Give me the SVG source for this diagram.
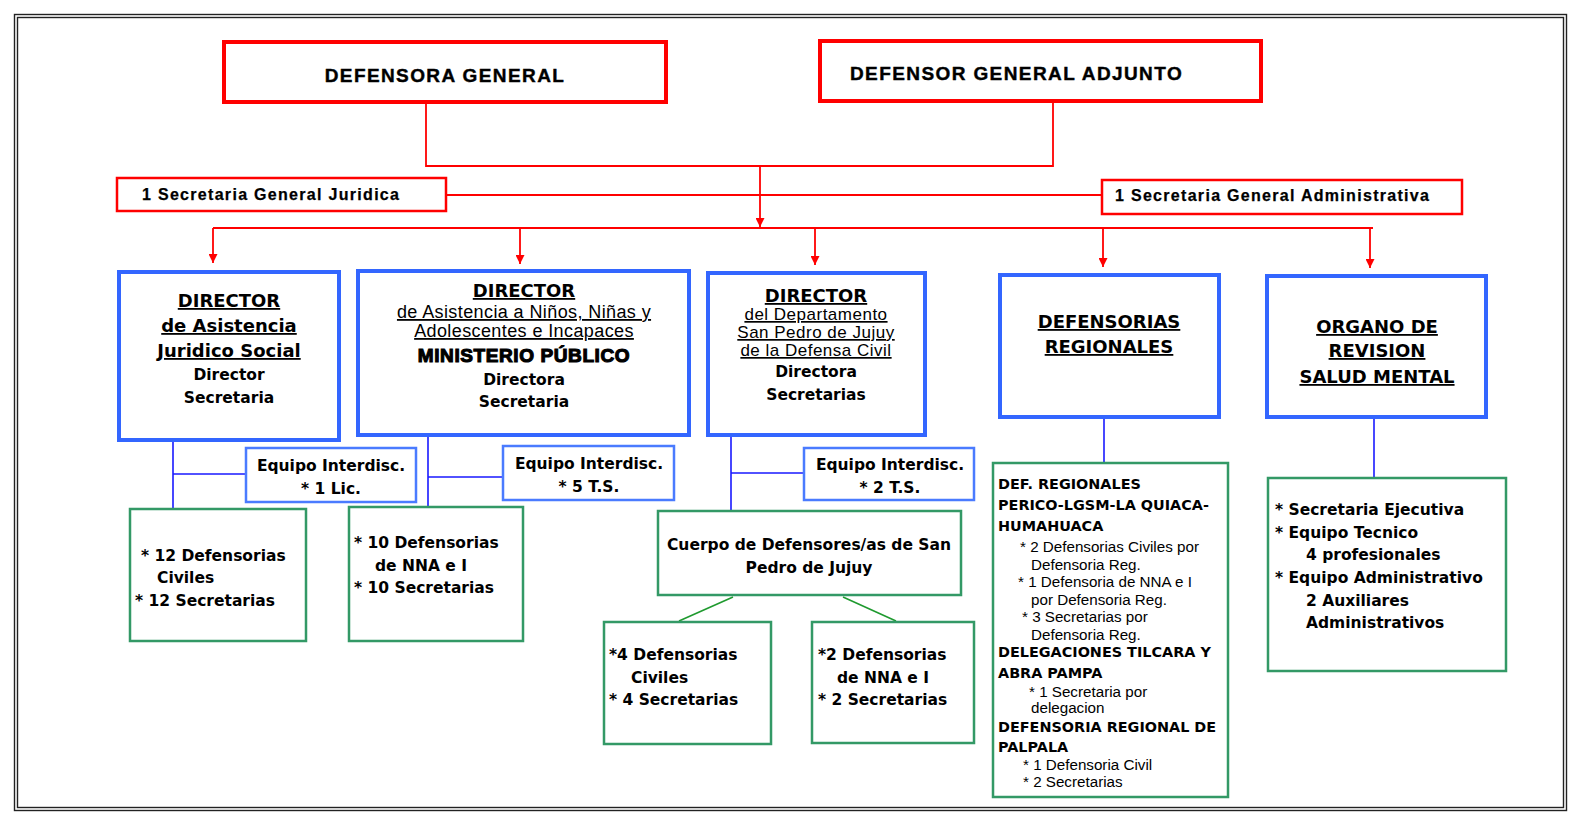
<svg xmlns="http://www.w3.org/2000/svg" width="1581" height="829" viewBox="0 0 1581 829">
<style>
.bg{fill:#fff}
.frame{fill:none;stroke:#222;stroke-width:1.4}
.red{fill:#fff;stroke:#ff0000;stroke-width:4}
.red2{fill:#fff;stroke:#ff0000;stroke-width:2.5}
.blue{fill:#fff;stroke:#3366ff;stroke-width:4}
.blue2{fill:#fff;stroke:#4a7bff;stroke-width:2.5}
.green{fill:#fff;stroke:#339966;stroke-width:2.5}
.cr{fill:none;stroke:#ff0000;stroke-width:1.8}
.cb{fill:none;stroke:#1a1aff;stroke-width:1.6}
.cg{fill:none;stroke:#1f9a2f;stroke-width:1.6}
text{fill:#000}
.a{font-family:"Liberation Sans",Arial,sans-serif;font-weight:bold}
.t1{font-size:19px;letter-spacing:1.4px;stroke:#000;stroke-width:0.4}
.ts{font-size:16px;letter-spacing:1.3px;stroke:#000;stroke-width:0.25}
.v{font-family:"DejaVu Sans",Verdana,sans-serif;font-weight:bold}
.r{font-family:"Liberation Sans",Arial,sans-serif}
.m{text-anchor:middle}
.u{text-decoration:underline}
.f18{font-size:18px}
.f155{font-size:15.5px}
.f14{font-size:15.5px}
.f15{font-size:14.4px}
.rr{font-size:18px;letter-spacing:0.4px}
.rd{font-size:17px;letter-spacing:0.5px}
.min{font-size:19px;letter-spacing:0.6px;stroke:#000;stroke-width:1.1}
.sm{font-size:15.2px}
</style>
<defs>
<marker id="arr" viewBox="0 0 10 10" refX="10" refY="5" markerWidth="10" markerHeight="9" markerUnits="userSpaceOnUse" orient="auto">
<path d="M0,0 L10,5 L0,10 z" fill="#ff0000"/>
</marker>
</defs>
<rect class="bg" x="0" y="0" width="1581" height="829"/>
<rect class="frame" x="14.5" y="14.5" width="1552" height="796"/>
<rect class="frame" x="17.5" y="17.5" width="1546" height="790"/>

<g id="connectors">
<path class="cr" d="M426,104 V166 H1053 V103"/>
<path class="cr" d="M760,166 V227" marker-end="url(#arr)"/>
<path class="cr" d="M447,195 H1101"/>
<path class="cr" d="M213,228 H1373"/>
<path class="cr" d="M213,228 V263" marker-end="url(#arr)"/>
<path class="cr" d="M520,228 V264" marker-end="url(#arr)"/>
<path class="cr" d="M815,228 V265" marker-end="url(#arr)"/>
<path class="cr" d="M1103,228 V267" marker-end="url(#arr)"/>
<path class="cr" d="M1370,228 V268" marker-end="url(#arr)"/>
<path class="cb" d="M173,442 V508 M173,474 H246"/>
<path class="cb" d="M428,437 V506 M428,477 H503"/>
<path class="cb" d="M731,437 V510 M731,473 H804"/>
<path class="cb" d="M1104,419 V463"/>
<path class="cb" d="M1374,419 V478"/>
<path class="cg" d="M733,597 L679,621 M843,597 L896,621"/>
</g>

<g id="defensora-general">
<rect class="red" x="224" y="42" width="442" height="60"/>
<text class="a t1 m" x="445" y="82">DEFENSORA GENERAL</text>
</g>
<g id="defensor-adjunto">
<rect class="red" x="820" y="41" width="441" height="60"/>
<text class="a t1" x="850" y="80">DEFENSOR GENERAL ADJUNTO</text>
</g>
<g id="sec-juridica">
<rect class="red2" x="117" y="178" width="329" height="33"/>
<text class="a ts" x="142" y="200">1 Secretaria General Juridica</text>
</g>
<g id="sec-administrativa">
<rect class="red2" x="1102" y="180" width="360" height="34"/>
<text class="a ts" x="1115" y="201">1 Secretaria General Administrativa</text>
</g>

<g id="dir-juridico-social">
<rect class="blue" x="119" y="272" width="220" height="168"/>
<text class="v f18 m u" x="229" y="307">DIRECTOR</text>
<text class="v f18 m u" x="229" y="332">de Asistencia</text>
<text class="v f18 m u" x="229" y="357">Juridico Social</text>
<text class="v f155 m" x="229" y="380">Director</text>
<text class="v f155 m" x="229" y="403">Secretaria</text>
</g>
<g id="dir-nna">
<rect class="blue" x="358" y="271" width="331" height="164"/>
<text class="v f18 m u" x="524" y="297">DIRECTOR</text>
<text class="r rr m u" x="524" y="318">de Asistencia a Niños, Niñas y</text>
<text class="r rr m u" x="524" y="337">Adolescentes e Incapaces</text>
<text class="a min m" x="524" y="362">MINISTERIO PÚBLICO</text>
<text class="v f155 m" x="524" y="385">Directora</text>
<text class="v f155 m" x="524" y="407">Secretaria</text>
</g>
<g id="dir-defensa-civil">
<rect class="blue" x="708" y="273" width="217" height="162"/>
<text class="v f18 m u" x="816" y="302">DIRECTOR</text>
<text class="r rd m u" x="816" y="320">del Departamento</text>
<text class="r rd m u" x="816" y="338">San Pedro de Jujuy</text>
<text class="r rd m u" x="816" y="356">de la Defensa Civil</text>
<text class="v f155 m" x="816" y="377">Directora</text>
<text class="v f155 m" x="816" y="400">Secretarias</text>
</g>
<g id="defensorias-regionales">
<rect class="blue" x="1000" y="275" width="219" height="142"/>
<text class="v f18 m u" x="1109" y="328">DEFENSORIAS</text>
<text class="v f18 m u" x="1109" y="353">REGIONALES</text>
</g>
<g id="organo-revision">
<rect class="blue" x="1267" y="276" width="219" height="141"/>
<text class="v f18 m u" x="1377" y="333">ORGANO DE</text>
<text class="v f18 m u" x="1377" y="357">REVISION</text>
<text class="v f18 m u" x="1377" y="383">SALUD MENTAL</text>
</g>

<g id="equipo-1">
<rect class="blue2" x="246" y="448" width="170" height="54"/>
<text class="v f14 m" x="331" y="471">Equipo Interdisc.</text>
<text class="v f14 m" x="331" y="494">* 1 Lic.</text>
</g>
<g id="equipo-2">
<rect class="blue2" x="503" y="446" width="171" height="54"/>
<text class="v f14 m" x="589" y="469">Equipo Interdisc.</text>
<text class="v f14 m" x="589" y="492">* 5 T.S.</text>
</g>
<g id="equipo-3">
<rect class="blue2" x="804" y="448" width="170" height="52"/>
<text class="v f14 m" x="890" y="470">Equipo Interdisc.</text>
<text class="v f14 m" x="890" y="493">* 2 T.S.</text>
</g>

<g id="defensorias-civiles">
<rect class="green" x="130" y="509" width="176" height="132"/>
<text class="v f155" x="141" y="561">* 12 Defensorias</text>
<text class="v f155" x="157" y="583">Civiles</text>
<text class="v f155" x="135" y="606">* 12 Secretarias</text>
</g>
<g id="defensorias-nna">
<rect class="green" x="349" y="507" width="174" height="134"/>
<text class="v f155" x="354" y="548">* 10 Defensorias</text>
<text class="v f155" x="375" y="571">de NNA e I</text>
<text class="v f155" x="354" y="593">* 10 Secretarias</text>
</g>
<g id="cuerpo-defensores">
<rect class="green" x="658" y="511" width="303" height="84"/>
<text class="v f155 m" x="809" y="550">Cuerpo de Defensores/as de San</text>
<text class="v f155 m" x="809" y="573">Pedro de Jujuy</text>
</g>
<g id="cuerpo-civiles">
<rect class="green" x="604" y="622" width="167" height="122"/>
<text class="v f155" x="609" y="660">*4 Defensorias</text>
<text class="v f155" x="631" y="683">Civiles</text>
<text class="v f155" x="609" y="705">* 4 Secretarias</text>
</g>
<g id="cuerpo-nna">
<rect class="green" x="812" y="622" width="162" height="121"/>
<text class="v f155" x="818" y="660">*2 Defensorias</text>
<text class="v f155" x="837" y="683">de NNA e I</text>
<text class="v f155" x="818" y="705">* 2 Secretarias</text>
</g>
<g id="regionales-detalle">
<rect class="green" x="993" y="463" width="235" height="334"/>
<text class="v f15" x="998" y="489">DEF. REGIONALES</text>
<text class="v f15" x="998" y="510">PERICO-LGSM-LA QUIACA-</text>
<text class="v f15" x="998" y="531">HUMAHUACA</text>
<text class="r sm" x="1020" y="552">* 2 Defensorias Civiles por</text>
<text class="r sm" x="1031" y="570">Defensoria Reg.</text>
<text class="r sm" x="1018" y="587">* 1 Defensoria de NNA e I</text>
<text class="r sm" x="1031" y="605">por Defensoria Reg.</text>
<text class="r sm" x="1022" y="622">* 3 Secretarias por</text>
<text class="r sm" x="1031" y="640">Defensoria Reg.</text>
<text class="v f15" x="998" y="657">DELEGACIONES TILCARA Y</text>
<text class="v f15" x="998" y="678">ABRA PAMPA</text>
<text class="r sm" x="1029" y="697">* 1 Secretaria por</text>
<text class="r sm" x="1031" y="713">delegacion</text>
<text class="v f15" x="998" y="732">DEFENSORIA REGIONAL DE</text>
<text class="v f15" x="998" y="752">PALPALA</text>
<text class="r sm" x="1023" y="770">* 1 Defensoria Civil</text>
<text class="r sm" x="1023" y="787">* 2 Secretarias</text>
</g>
<g id="organo-detalle">
<rect class="green" x="1268" y="478" width="238" height="193"/>
<text class="v f155" x="1275" y="515">* Secretaria Ejecutiva</text>
<text class="v f155" x="1275" y="538">* Equipo Tecnico</text>
<text class="v f155" x="1306" y="560">4 profesionales</text>
<text class="v f155" x="1275" y="583">* Equipo Administrativo</text>
<text class="v f155" x="1306" y="606">2 Auxiliares</text>
<text class="v f155" x="1306" y="628">Administrativos</text>
</g>
</svg>
